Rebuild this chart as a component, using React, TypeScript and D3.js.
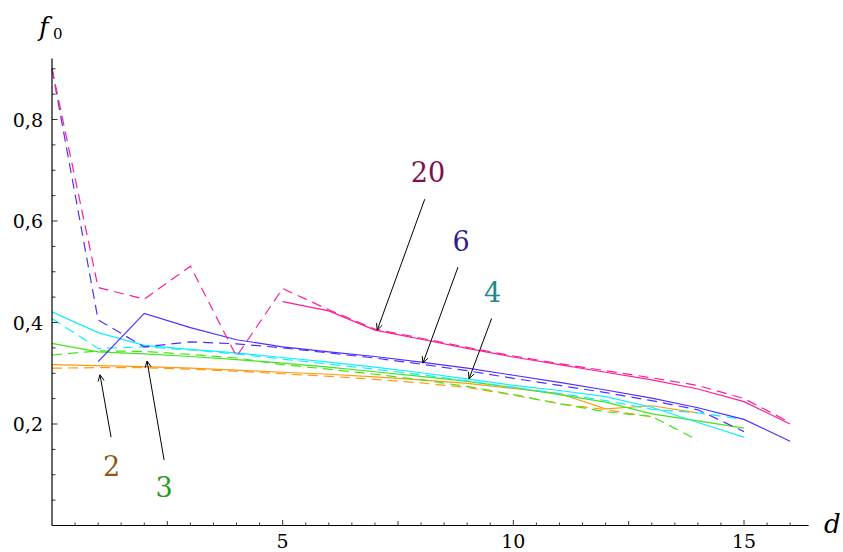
import React from "react";
import * as d3 from "d3";

const W = 843;
const H = 552;

// d values are integers; series start at given offsets
const pinkDashed = [0.9, 0.469, 0.446, 0.511, 0.333, 0.467, 0.425, 0.387, 0.369, 0.351, 0.334, 0.319, 0.305, 0.291, 0.276, 0.25, 0.203];
const pinkSolid = [0.441, 0.423, 0.385, 0.367, 0.349, 0.332, 0.317, 0.302, 0.287, 0.269, 0.244, 0.2]; // from d=5
const blueDashed = [0.9, 0.405, 0.352, 0.362, 0.358, 0.35, 0.34, 0.33, 0.318, 0.305, 0.29, 0.276, 0.262, 0.246, 0.228, 0.185];
const blueSolid = [0.323, 0.418, 0.39, 0.366, 0.352, 0.342, 0.333, 0.322, 0.31, 0.296, 0.282, 0.267, 0.251, 0.232, 0.209, 0.166]; // from d=1
const cyanSolid = [0.421, 0.38, 0.355, 0.347, 0.34, 0.331, 0.322, 0.312, 0.301, 0.289, 0.276, 0.266, 0.254, 0.233, 0.203, 0.174];
const cyanDashed = [0.408, 0.349, 0.352, 0.346, 0.338, 0.328, 0.318, 0.308, 0.297, 0.285, 0.272, 0.26, 0.246, 0.229, 0.222, 0.209];
const greenSolid = [0.359, 0.342, 0.338, 0.333, 0.327, 0.32, 0.312, 0.303, 0.294, 0.284, 0.272, 0.258, 0.243, 0.22, 0.206, 0.192];
const greenDashed = [0.336, 0.344, 0.343, 0.337, 0.33, 0.317, 0.308, 0.298, 0.287, 0.274, 0.258, 0.24, 0.224, 0.215, 0.168];
const orangeSolid = [0.317, 0.315, 0.313, 0.31, 0.306, 0.302, 0.298, 0.293, 0.287, 0.28, 0.27, 0.26, 0.23, 0.236, 0.222];
const orangeDashed = [0.31, 0.311, 0.311, 0.308, 0.304, 0.299, 0.294, 0.288, 0.281, 0.272, 0.257, 0.24, 0.228, 0.214];

const xTickLabels = [5, 10, 15];
const yTickLabels = [0.2, 0.4, 0.6, 0.8];

const series = [
  { values: orangeDashed, start: 0, color: "#ff9a14", dashed: true },
  { values: orangeSolid, start: 0, color: "#ff9a14", dashed: false },
  { values: greenDashed, start: 0, color: "#44e41c", dashed: true },
  { values: greenSolid, start: 0, color: "#44e41c", dashed: false },
  { values: cyanDashed, start: 0, color: "#10eeff", dashed: true },
  { values: cyanSolid, start: 0, color: "#10eeff", dashed: false },
  { values: blueDashed, start: 0, color: "#4d30ff", dashed: true },
  { values: blueSolid, start: 1, color: "#4d30ff", dashed: false },
  { values: pinkDashed, start: 0, color: "#ff1e96", dashed: true },
  { values: pinkSolid, start: 5, color: "#ff1e96", dashed: false },
];

// annotations: label, colour, label position, arrow tail, arrow tip (data units)
const annotations = [
  { text: "20", color: "#7d0f4d", lx: 8.15, ly: 0.676, tail: [8.08, 0.643], tip: [7.05, 0.385] },
  { text: "6", color: "#2d1f8f", lx: 8.87, ly: 0.541, tail: [8.8, 0.509], tip: [8.04, 0.32] },
  { text: "4", color: "#1a8a8a", lx: 9.55, ly: 0.44, tail: [9.53, 0.408], tip: [9.04, 0.289] },
  { text: "2", color: "#8b5a14", lx: 1.29, ly: 0.0975, tail: [1.28, 0.174], tip: [1.04, 0.297] },
  { text: "3", color: "#2a9a1a", lx: 2.43, ly: 0.056, tail: [2.43, 0.129], tip: [2.06, 0.324] },
];

const x = d3.scaleLinear().domain([0, 15]).range([52, 744]);
const y = d3.scaleLinear().domain([0, 0.8]).range([525.5, 119.5]);

const FONT = "DejaVu Serif";

export default function App() {
  const line = d3
    .line<[number, number]>()
    .x((d) => x(d[0]))
    .y((d) => y(d[1]));

  const xTicks = d3.range(1, 33).map((i) => i * 0.5);
  const yTicks = d3.range(1, 19).map((i) => +(i * 0.05).toFixed(2));
  const x0 = x(0);
  const y0 = y(0);
  const xEnd = x(16.4);
  const yTop = y(0.92);

  const arrowHead = (tip: number[], tail: number[]) => {
    const tx = x(tip[0]);
    const ty = y(tip[1]);
    const ang = Math.atan2(y(tail[1]) - ty, x(tail[0]) - tx);
    const L = 7;
    const spread = 0.45;
    const p1 = [tx + L * Math.cos(ang + spread), ty + L * Math.sin(ang + spread)];
    const p2 = [tx + L * Math.cos(ang - spread), ty + L * Math.sin(ang - spread)];
    return `M${p1[0]},${p1[1]}L${tx},${ty}L${p2[0]},${p2[1]}`;
  };

  return (
    <svg
      width={W}
      height={H}
      style={{ position: "absolute", left: 0, top: 0, background: "#fff" }}
    >
      {/* series */}
      {series.map((s, i) => (
        <path
          key={i}
          d={line(s.values.map((v, j) => [s.start + j, v] as [number, number])) || ""}
          fill="none"
          stroke={s.color}
          strokeWidth={1.2}
          strokeDasharray={s.dashed ? "10,6" : undefined}
        />
      ))}

      {/* axes */}
      <line x1={x0} x2={xEnd} y1={y0} y2={y0} stroke="#000" strokeWidth={1.2} />
      <line x1={x0} x2={x0} y1={y0} y2={yTop} stroke="#000" strokeWidth={1.2} />
      {xTicks.map((t) => {
        const major = t % 5 === 0;
        const mid = !major && t % 2.5 === 0;
        const len = major ? 5.5 : mid ? 4.5 : 3;
        return <line key={"xt" + t} x1={x(t)} x2={x(t)} y1={y0} y2={y0 - len} stroke="#000" strokeWidth={0.8} />;
      })}
      {yTicks.map((t) => {
        const r = Math.round(t * 100) % 20;
        const len = r === 0 ? 5.5 : 3.5;
        return <line key={"yt" + t} x1={x0} x2={x0 + len} y1={y(t)} y2={y(t)} stroke="#000" strokeWidth={0.8} />;
      })}
      {xTickLabels.map((t) => (
        <text key={"xl" + t} x={x(t)} y={548} textAnchor="middle" fontSize={19} fill="#000" fontFamily={FONT}>
          {t}
        </text>
      ))}
      {yTickLabels.map((t) => (
        <text key={"yl" + t} x={43} y={y(t) + 7} textAnchor="end" fontSize={19} fill="#000" fontFamily={FONT}>
          {t.toFixed(1).replace(".", ",")}
        </text>
      ))}

      {/* axis titles */}
      <text x={39} y={36} fontSize={26} fontStyle="italic" fill="#000" fontFamily={FONT}>
        f
      </text>
      <text x={53} y={39} fontSize={15} fill="#000" fontFamily={FONT}>
        0
      </text>
      <text x={824} y={533} fontSize={26} fontStyle="italic" fill="#000" fontFamily={FONT}>
        d
      </text>

      {/* annotations */}
      {annotations.map((a) => (
        <g key={a.text}>
          <line
            x1={x(a.tail[0])}
            y1={y(a.tail[1])}
            x2={x(a.tip[0])}
            y2={y(a.tip[1])}
            stroke="#000"
            strokeWidth={1}
          />
          <path d={arrowHead(a.tip, a.tail)} fill="none" stroke="#000" strokeWidth={1} />
          <text x={x(a.lx)} y={y(a.ly)} textAnchor="middle" fontSize={27} fill={a.color} fontFamily={FONT}>
            {a.text}
          </text>
        </g>
      ))}
    </svg>
  );
}
